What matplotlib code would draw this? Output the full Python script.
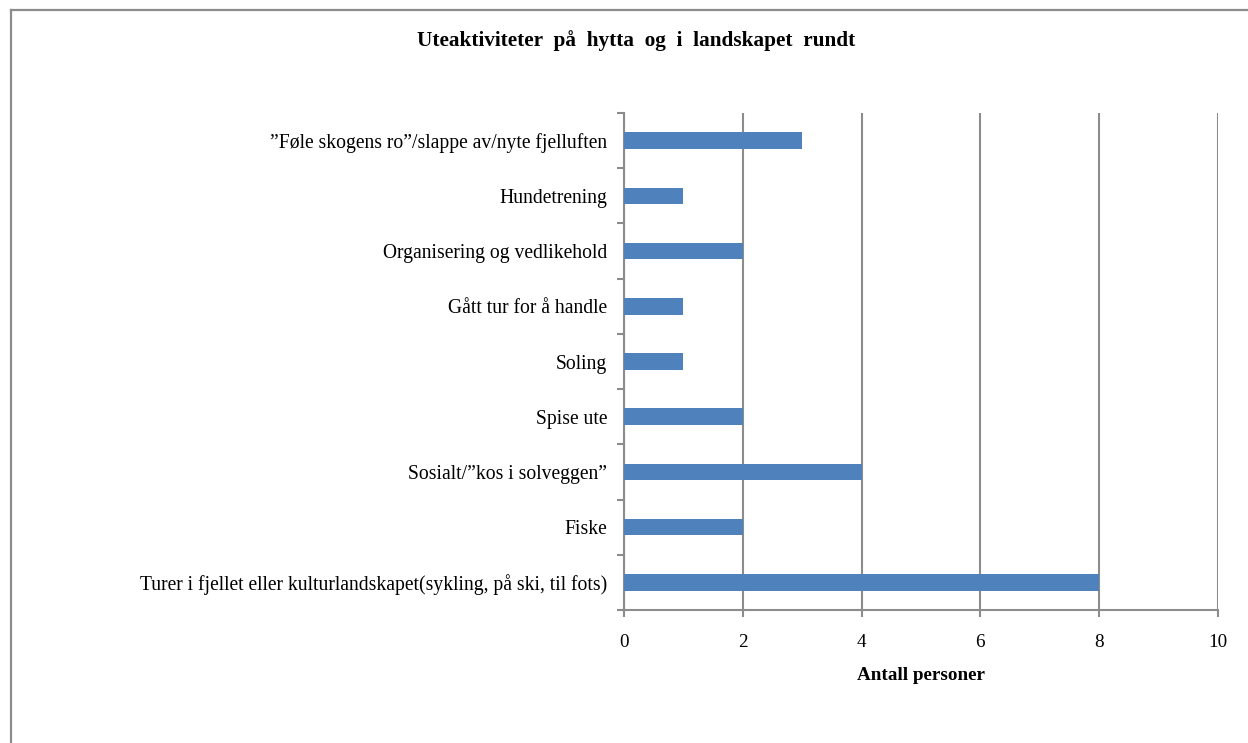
import numpy as np
import matplotlib.pyplot as plt
from matplotlib.lines import Line2D

plt.rcParams['font.family'] = ['Liberation Serif', 'DejaVu Serif']

# categories listed top to bottom
categories = [
    "\u201dFøle skogens ro\u201d/slappe av/nyte fjelluften",
    "Hundetrening",
    "Organisering og vedlikehold",
    "Gått tur for å handle",
    "Soling",
    "Spise ute",
    "Sosialt/\u201dkos i solveggen\u201d",
    "Fiske",
    "Turer i fjellet eller kulturlandskapet(sykling, på ski, til fots)",
]
values = [3, 1, 2, 1, 1, 2, 4, 2, 8]
xticks = [0, 2, 4, 6, 8, 10]

gray = '#8c8c8c'
blue = '#4f81bd'

fig = plt.figure(figsize=(12.48, 7.43), dpi=100)
ax = fig.add_axes([624/1248, 1-610/743, (1218-624)/1248, (610-113)/743])

y = np.arange(len(categories))
ax.barh(y, values, height=0.3, color=blue, zorder=3)
ax.set_ylim(len(categories)-0.5, -0.5)
ax.set_xlim(0, 10)

ax.set_yticks(y)
ax.set_yticklabels(categories, fontsize=14.1)
ax.set_yticks(np.arange(len(categories)+1)-0.5, minor=True)
ax.tick_params(axis='y', which='major', length=0, pad=12)
ax.tick_params(axis='y', which='minor', length=5, width=1.5, color=gray, direction='out')

ax.set_xticks(xticks)
ax.set_xticklabels([str(t) for t in xticks], fontsize=13.8)
ax.tick_params(axis='x', length=5, width=1.5, color=gray, direction='out', pad=12)

ax.grid(axis='x', color=gray, linewidth=1.5, zorder=0)
ax.set_axisbelow(True)
for s in ['top', 'right']:
    ax.spines[s].set_visible(False)
for s in ['left', 'bottom']:
    ax.spines[s].set_color(gray)
    ax.spines[s].set_linewidth(1.5)

ax.set_xlabel("Antall personer", fontsize=13.8, fontweight='bold', labelpad=12)

fig.text(636/1248, 1-41/743, "Uteaktiviteter  på  hytta  og  i  landskapet  rundt",
         ha='center', va='center', fontsize=15.3, fontweight='bold')

# outer chart border (only top and left visible)
fig.add_artist(Line2D([10.5/1248, 10.5/1248], [0, 1-9.5/743], color=gray, linewidth=1.6, transform=fig.transFigure))
fig.add_artist(Line2D([10.5/1248, 1], [1-9.5/743, 1-9.5/743], color=gray, linewidth=1.6, transform=fig.transFigure))

fig.savefig('out.png', dpi=100, facecolor='white')
